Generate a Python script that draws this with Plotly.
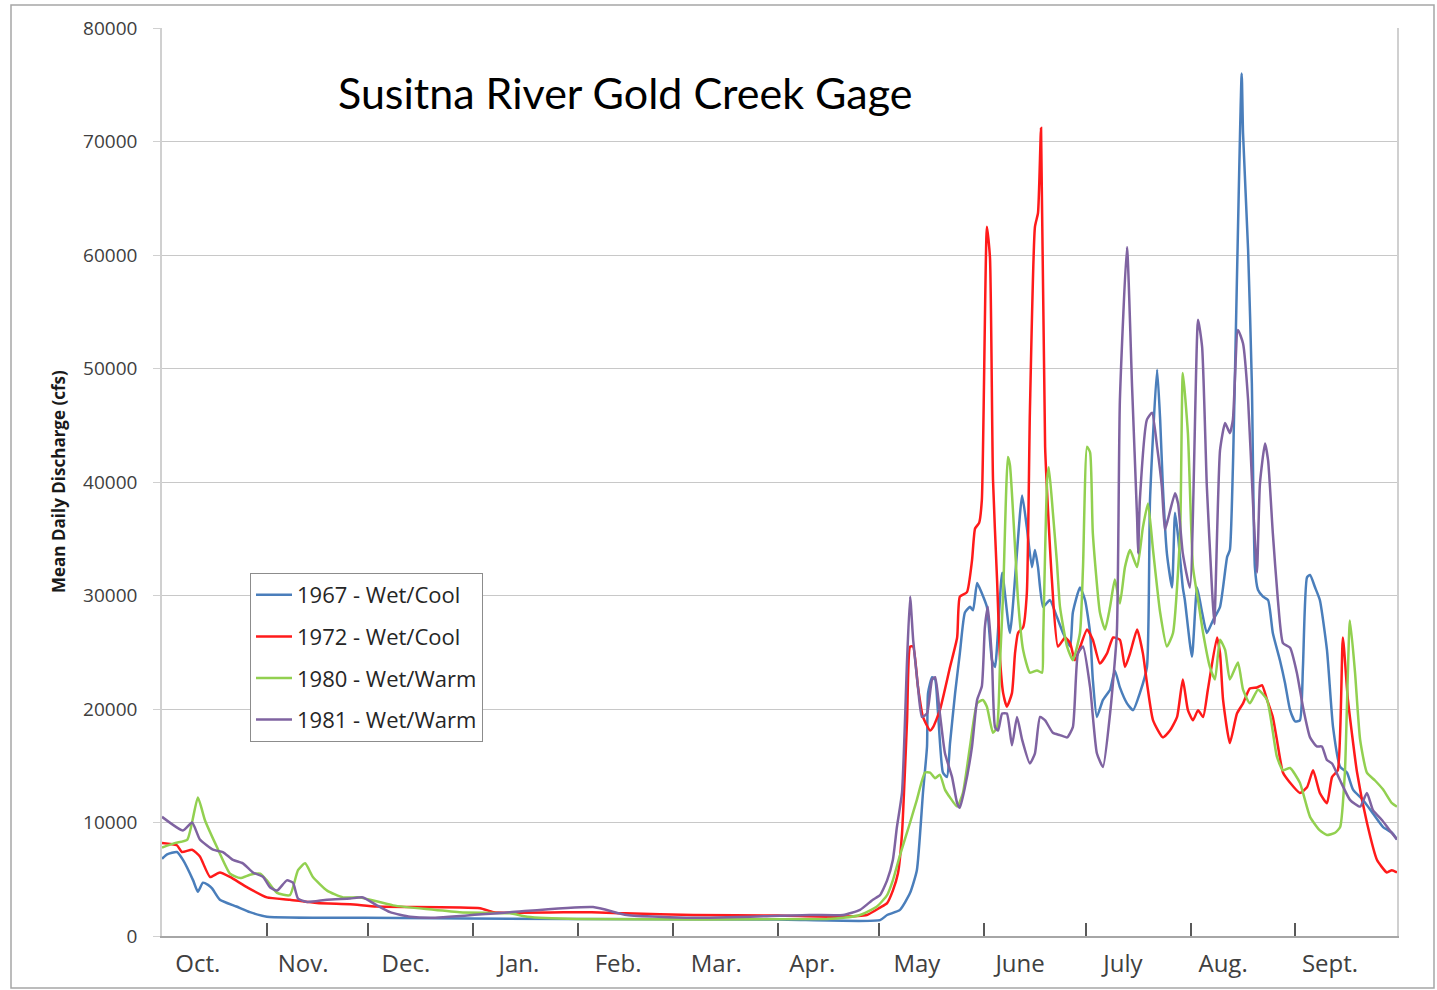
import plotly.graph_objects as go

# Water-year day (0 = Oct 1) and mean daily discharge (cfs) for each year
days_1967 = [0, 1.5, 4.4, 6.2, 9.2, 10.6, 12.1, 13.6, 14.8, 17.1, 22, 26, 31, 60, 120, 182, 212.2,
             214.3, 218.1, 221.1, 223.1, 224.9, 226.1, 226.4, 227.6, 228.5, 229.3, 230.8, 232.0,
             232.9, 234.4, 235.8, 237.3, 238.8, 239.7, 240.9, 242.3, 243.8, 245.3, 246.2, 248.3,
             250.6, 254.2, 255.6, 257.1, 258.0, 258.9, 260.4, 262.4, 264.5, 266.3, 268.4, 269.2,
             271.3, 272.8, 274.3, 275.1, 276.3, 278.1, 280.2, 281.6, 283.1, 285.2, 287.0, 289.0,
             291.1, 292.0, 294.1, 295.0, 295.8, 297.0, 298.5, 299.4, 300.3, 301.7, 302.3, 304.4,
             305.9, 307.4, 308.8, 310.6, 312.7, 314.8, 315.6, 316.5, 319.1, 319.5, 321.0, 322.1,
             323.0, 323.9, 325.4, 326.9, 328.3, 330.4, 331.9, 333.4, 334.9, 336.3, 337.2, 338.4,
             339.3, 340.8, 342.2, 344.3, 346.1, 348.2, 350.2, 352.0, 354.9, 357.9, 360.9, 363.5, 365]
cfs_1967 = [6800, 7200, 7400, 6700, 4900, 3900, 4700, 4500, 4200, 3200, 2600, 2100, 1700, 1600, 1500,
            1450, 1400, 1850, 2300, 3800, 5800, 12600, 16700, 21400, 22800, 22600, 19900, 14400,
            14000, 17000, 21400, 24900, 28500, 29000, 28700, 31100, 30200, 29000, 24300, 23700,
            32000, 26700, 38800, 36000, 32500, 34000, 32500, 29000, 29600, 28100, 26700, 25500,
            28500, 30700, 29600, 26700, 22600, 19300, 20800, 21700, 23400, 21900, 20500, 19900,
            21400, 23700, 38400, 49900, 45500, 39600, 33700, 30700, 37300, 35200, 30700, 29600,
            24600, 30700, 28500, 26700, 27800, 29000, 33400, 34000, 41300, 76000, 70700, 60400,
            48700, 32500, 30500, 29900, 29600, 26700, 24300, 22300, 19900, 18900, 19000, 23700,
            31600, 31800, 30700, 29600, 25200, 18400, 14900, 14400, 12900, 12000, 10800, 9600,
            9100, 8500]

days_1972 = [0, 4.4, 5.9, 8.9, 11.2, 14.2, 17.1, 20.1, 25.1, 31, 37.8, 45.8, 55.6, 63.5, 94, 98,
             127, 137, 157, 182, 200, 208.3, 212.2, 214.3, 216.0, 217.5, 218.7, 220.2, 221.1,
             222.0, 223.4, 224.9, 227.0, 227.9, 229.9, 232.9, 235.0, 235.8, 237.9, 239.4, 240.3,
             241.5, 242.3, 243.8, 244.7, 245.6, 246.8, 247.7, 248.6, 249.7, 251.2, 252.1, 253.0,
             254.5, 255.6, 256.5, 258.0, 258.9, 259.8, 261.0, 263.0, 264.8, 266.9, 268.4, 269.8,
             273.4, 275.1, 277.2, 279.3, 281.1, 283.1, 284.6, 286.1, 288.2, 289.9, 291.1, 292.9,
             295.8, 297.9, 300.0, 301.7, 303.2, 304.7, 306.2, 307.7, 309.1, 311.8, 312.7, 313.6,
             315.6, 317.7, 319.5, 321.5, 323.6, 325.1, 326.6, 328.3, 329.5, 331.3, 333.4, 336.3,
             338.4, 340.2, 342.2, 344.3, 345.8, 347.5, 349.0, 350.5, 353.2, 356.1, 359.1, 362.0,
             363.5, 365]
cfs_1972 = [8200, 8000, 7400, 7600, 7000, 5200, 5600, 5200, 4300, 3400, 3200, 2900, 2800, 2600, 2450,
            2100, 2100, 2000, 1850, 1800, 1700, 1850, 2500, 2900, 4000, 5500, 9000, 19000, 25500,
            25500, 22000, 19300, 18100, 18400, 19900, 23700, 26300, 29900, 30300, 33100, 35900,
            36400, 38400, 62500, 59800, 40200, 31400, 24300, 21400, 20200, 21400, 24900, 26700,
            27200, 30200, 46100, 62500, 63700, 71200, 43100, 31400, 25500, 26300, 25800, 24300,
            27000, 26100, 24000, 24900, 26300, 26100, 23700, 24900, 27000, 24900, 22300, 19000,
            17500, 18100, 19300, 22600, 19900, 19000, 19900, 19300, 21700, 26300, 24900, 20800,
            17000, 19600, 20500, 21800, 21900, 22100, 20800, 19300, 17300, 14400, 13500, 12600,
            13100, 14600, 12600, 11700, 14000, 14600, 26300, 20800, 14400, 10000, 6700, 5600,
            5800, 5600]

days_1980 = [0, 4, 7.5, 10.6, 12.7, 16.3, 20.1, 23.1, 26.0, 29.0, 31.0, 34.0, 37.8, 40.2, 42.3,
             44.6, 48.8, 53.5, 58.5, 68.3, 88, 102.8, 107.9, 122.6, 196.5, 201.3, 206.3, 211.3,
             214.3, 216.0, 218.1, 221.1, 223.1, 225.5, 227.0, 228.5, 229.9, 231.4, 232.9, 235.0,
             236.7, 238.8, 240.9, 242.6, 243.8, 245.6, 246.8, 247.7, 248.6, 250.0, 250.6, 252.1,
             253.0, 254.5, 256.5, 258.6, 260.1, 260.4, 261.6, 262.1, 263.3, 264.5, 265.4, 267.5,
             269.2, 271.3, 272.2, 273.4, 274.3, 275.1, 277.2, 278.7, 280.2, 281.6, 283.1, 284.6,
             286.1, 288.2, 289.9, 291.4, 292.9, 295.0, 297.0, 298.8, 300.9, 301.7, 303.2, 304.7,
             306.2, 307.7, 309.7, 311.2, 312.7, 314.2, 315.6, 318.0, 319.5, 321.5, 323.9, 326.6,
             329.5, 331.3, 333.4, 336.3, 339.3, 342.2, 344.3, 346.7, 348.2, 349.6, 351.1, 352.6,
             354.1, 356.1, 358.5, 360.9, 363.5, 365]
cfs_1980 = [7800, 8200, 8500, 12200, 10200, 7800, 5500, 5100, 5400, 5500, 4900, 3800, 3600, 5800,
            6400, 5200, 4000, 3400, 3400, 2700, 2100, 2000, 1700, 1500, 1500, 1600, 1850, 2600,
            3600, 4900, 7100, 10000, 12000, 14400, 14400, 13900, 14200, 12900, 12200, 11400,
            12600, 16700, 20500, 20800, 20200, 17900, 18400, 24300, 30200, 42200, 41500, 34300,
            29600, 25200, 23200, 23400, 23200, 25800, 40200, 41300, 37300, 32900, 29000, 25500,
            24300, 26700, 32500, 43100, 42600, 35500, 28500, 27000, 29000, 31400, 29300, 32500,
            34000, 32500, 36000, 38100, 34000, 28500, 25500, 26700, 35500, 49600, 44300, 32500,
            29600, 26700, 23700, 22600, 26100, 25200, 22600, 24100, 21700, 20500, 21700, 20800,
            15800, 14600, 14800, 13500, 10500, 9300, 8900, 9100, 9600, 14400, 27800, 23200,
            17300, 14400, 13700, 12900, 11700, 11400]

days_1981 = [0, 6.2, 8.9, 11.2, 15.1, 18.0, 21.0, 23.9, 26.9, 29.9, 31.9, 34.0, 36.9, 38.7, 40.2,
             42.9, 48.8, 55.6, 59.4, 63.5, 67.4, 73.3, 80.1, 102.8, 127.4, 137.4, 156.9, 191.5,
             201.3, 206.3, 210.1, 212.2, 214.3, 216.0, 217.2, 218.7, 220.2, 221.1, 222.0, 223.4,
             224.6, 226.1, 227.6, 228.5, 229.9, 231.4, 233.5, 235.0, 235.8, 237.3, 239.4, 240.9,
             242.3, 243.2, 244.1, 245.3, 246.2, 247.1, 248.3, 249.7, 251.2, 252.7, 254.2, 256.5,
             258.0, 259.5, 261.0, 263.3, 265.4, 267.5, 269.2, 270.7, 272.2, 274.3, 276.3, 278.1,
             280.2, 282.2, 283.1, 285.2, 286.7, 288.2, 288.5, 289.0, 291.1, 292.6, 294.1, 295.5,
             296.4, 297.3, 299.4, 300.3, 301.7, 303.8, 306.2, 307.4, 308.8, 310.3, 311.0, 312.7,
             314.2, 315.6, 316.5, 318.0, 319.5, 321.0, 322.4, 323.6, 324.5, 326.0, 326.9, 328.3,
             329.8, 331.3, 333.4, 335.4, 337.2, 339.3, 341.3, 342.8, 344.3, 345.8, 348.2, 351.1,
             354.1, 356.1, 357.9, 360.6, 362.9, 365]
cfs_1981 = [10500, 9300, 10000, 8500, 7600, 7400, 6700, 6400, 5600, 5200, 4300, 4000, 4900, 4700,
            3300, 3000, 3200, 3300, 3400, 2700, 2100, 1700, 1600, 2100, 2550, 1850, 1600, 1850,
            1850, 2300, 3200, 3600, 4900, 6700, 9600, 12600, 24300, 29900, 26100, 22000, 19300,
            19600, 22600, 22800, 19600, 16100, 14000, 11700, 11300, 13100, 16700, 20800, 22000,
            27200, 29000, 24300, 18400, 18100, 19600, 19600, 16800, 19300, 17300, 15200, 16100,
            19300, 19000, 17900, 17700, 17500, 18400, 24900, 25500, 21900, 16100, 14900, 19600,
            26700, 47200, 60700, 48400, 36700, 33700, 38400, 45500, 46100, 43100, 39600, 35800,
            36700, 39000, 38100, 33700, 30700, 54300, 51900, 39600, 30700, 27500, 42800, 45200,
            44300, 45500, 53400, 52200, 47200, 38400, 32000, 39900, 43400, 41900, 35500, 29600,
            25800, 25400, 23200, 20200, 17500, 16700, 16700, 15500, 15200, 13700, 12000, 11400,
            12600, 11100, 10200, 9300, 8500]

series_names = ["1967 - Wet/Cool", "1972 - Wet/Cool", "1980 - Wet/Warm", "1981 - Wet/Warm"]
series_days = [days_1967, days_1972, days_1980, days_1981]
series_cfs = [cfs_1967, cfs_1972, cfs_1980, cfs_1981]
series_colors = ["#4a7ebb", "#ff1a1a", "#92d050", "#7f63a1"]

# Month boundaries (water-year day) and month label positions
month_starts = [31, 61, 92, 123, 151, 182, 212, 243, 273, 304, 335]
month_names = ["Oct.", "Nov.", "Dec.", "Jan.", "Feb.", "Mar.", "Apr.", "May", "June", "July",
               "Aug.", "Sept."]
month_label_days = [10.6, 41.7, 72.1, 105.5, 134.8, 163.8, 192.2, 223.1, 253.6, 284.0, 313.6,
                    345.2]

y_ticks = [0, 10000, 20000, 30000, 40000, 50000, 60000, 70000, 80000]
y_tick_text = ["0", "10000", "20000", "30000", "40000", "50000", "60000", "70000", "80000"]

fig = go.Figure()
for i, (name, d, q, c) in enumerate(zip(series_names, series_days, series_cfs, series_colors)):
    fig.add_trace(go.Scatter(
        x=d, y=q, name=name, mode="lines", legendgroup=f"g{i}",
        line=dict(color=c, width=2.5, shape="spline", smoothing=0.5),
    ))

W, H = 1437, 990
L, R, T, B = 162, 40, 28, 54
pw, ph = W - L - R, H - T - B

def px_x(x):
    return (x - L) / pw

def px_y(y):
    return (H - B - y) / ph

fig.update_layout(
    width=W, height=H,
    margin=dict(l=L, r=R, t=T, b=B, pad=0),
    paper_bgcolor="white", plot_bgcolor="white",
    font=dict(family="Open Sans", color="#404040"),
    showlegend=True,
    legend=dict(
        x=px_x(250), y=px_y(573), xanchor="left", yanchor="top",
        bgcolor="white", bordercolor="#8c8c8c", borderwidth=1,
        font=dict(family="Open Sans", size=22, color="#262626"),
        tracegroupgap=10, itemwidth=36,
    ),
    xaxis=dict(
        range=[0, 365], showgrid=False, zeroline=False,
        showline=True, linecolor="#a6a6a6", linewidth=1.5, mirror=False,
        tickmode="array", tickvals=month_label_days, ticktext=month_names,
        ticks="", tickfont=dict(family="Open Sans", size=24, color="#404040"),
        ticklabelstandoff=5,
        minor=dict(tickmode="array", tickvals=month_starts, ticks="inside",
                   ticklen=13, tickwidth=2, tickcolor="#595959", showgrid=False),
    ),
    yaxis=dict(
        range=[0, 80000], tickmode="array", tickvals=y_ticks, ticktext=y_tick_text,
        showgrid=True, gridcolor="#c8c8c8", gridwidth=1.2, zeroline=False,
        showline=True, linecolor="#d0d0d0", linewidth=1.5, mirror=True,
        ticks="outside", ticklen=7, tickcolor="#d0d0d0",
        tickfont=dict(family="Open Sans", size=19, color="#404040"),
        ticklabelstandoff=12,
    ),
    annotations=[
        dict(text="Susitna River Gold Creek Gage", xref="paper", yref="paper",
             x=px_x(625), y=px_y(92), xanchor="center", yanchor="middle", showarrow=False,
             font=dict(family="Lato", size=43, color="#000000")),
        dict(text="<b>Mean Daily Discharge (cfs)</b>", xref="paper", yref="paper",
             x=px_x(58), y=px_y(482), xanchor="center", yanchor="middle", showarrow=False,
             textangle=-90, font=dict(family="Open Sans", size=17, color="#1a1a1a")),
    ],
    shapes=[
        dict(type="rect", xref="paper", yref="paper", x0=px_x(11), x1=px_x(1434),
             y0=px_y(988), y1=px_y(5), line=dict(color="#a6a6a6", width=1.5)),
    ],
)

fig.write_html("out.html")
